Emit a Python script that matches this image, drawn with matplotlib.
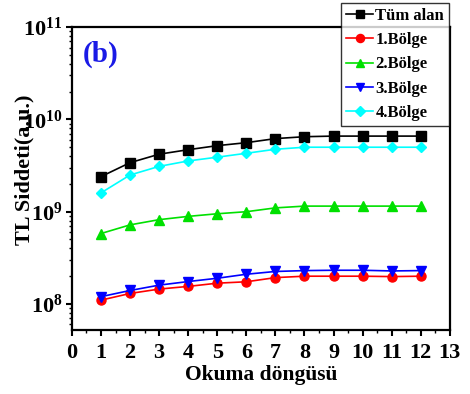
import math
import matplotlib
matplotlib.use("Agg")
import matplotlib.pyplot as plt
import matplotlib.ticker as ticker

plt.rcParams.update({
    "font.family": "Liberation Serif",
    "font.weight": "bold",
    "mathtext.fontset": "custom",
    "mathtext.rm": "Liberation Serif:bold",
    "mathtext.it": "Liberation Serif:bold",
    "mathtext.bf": "Liberation Serif:bold",
    "axes.linewidth": 1.6,
})

cycles = [1, 2, 3, 4, 5, 6, 7, 8, 9, 10, 11, 12]
tum_alan = [2.4e9, 3.4e9, 4.2e9, 4.7e9, 5.2e9, 5.6e9, 6.2e9, 6.5e9, 6.6e9, 6.6e9, 6.6e9, 6.6e9]
bolge1 = [1.1e8, 1.3e8, 1.45e8, 1.55e8, 1.68e8, 1.74e8, 1.93e8, 2.0e8, 2.0e8, 2.0e8, 1.98e8, 2.0e8]
bolge2 = [5.8e8, 7.2e8, 8.2e8, 8.9e8, 9.5e8, 1.0e9, 1.1e9, 1.15e9, 1.15e9, 1.15e9, 1.15e9, 1.15e9]
bolge3 = [1.2e8, 1.4e8, 1.6e8, 1.75e8, 1.9e8, 2.1e8, 2.25e8, 2.3e8, 2.32e8, 2.32e8, 2.28e8, 2.3e8]
bolge4 = [1.6e9, 2.5e9, 3.1e9, 3.55e9, 3.9e9, 4.3e9, 4.75e9, 5.0e9, 5.0e9, 5.0e9, 5.0e9, 5.0e9]

series = [
    ("Tüm alan", tum_alan, "black", "s"),
    ("1.Bölge", bolge1, "red", "o"),
    ("2.Bölge", bolge2, "#00e000", "^"),
    ("3.Bölge", bolge3, "blue", "v"),
    ("4.Bölge", bolge4, "cyan", "D"),
]

fig = plt.figure(figsize=(4.7, 3.94), dpi=100)
ax = fig.add_axes([0.153, 0.162, 0.804, 0.769])

for label, vals, col, mk in series:
    ax.plot(cycles, vals, color=col, marker=mk, ms=6.5 if mk != "D" else 5.5,
            lw=1.2, label=label)

ax.set_yscale("log")
ax.set_ylim(5.2e7, 1e11)
ax.set_xlim(0, 13)
ax.xaxis.set_major_locator(ticker.MultipleLocator(1))
ax.xaxis.set_minor_locator(ticker.MultipleLocator(0.5))
ax.yaxis.set_major_locator(ticker.LogLocator(base=10, numticks=10))
ax.yaxis.set_minor_locator(ticker.LogLocator(base=10, subs=range(2, 10), numticks=20))
ax.yaxis.set_minor_formatter(ticker.NullFormatter())
ax.yaxis.set_major_formatter(ticker.FuncFormatter(
    lambda v, _: r"$\mathbf{10^{%d}}$" % round(math.log10(v))))

ax.tick_params(axis="both", which="major", direction="out", length=4, width=1.5,
               labelsize=16, pad=3)
ax.tick_params(axis="x", which="major", pad=5)
ax.tick_params(axis="both", which="minor", direction="out", length=2.5, width=1.0)

ax.set_xlabel("Okuma döngüsü", fontsize=15.5, fontweight="bold", labelpad=2)
ax.set_ylabel("TL Siddeti(a.u.)", fontsize=16, fontweight="bold")
ax.yaxis.set_label_coords(-0.098, 0.53)

ax.text(0.03, 0.955, "(b)", transform=ax.transAxes, color="#1a1ae6",
        fontsize=21, fontweight="bold", va="top", ha="left")

leg = fig.legend(loc="upper left", bbox_to_anchor=(0.726, 0.993),
                 fontsize=12, frameon=True, fancybox=False, edgecolor="black",
                 handlelength=1.6, handletextpad=0.15, borderpad=0.3,
                 labelspacing=0.5, borderaxespad=0, markerscale=0.9)
leg.get_frame().set_linewidth(1.0)
for t in leg.get_texts():
    t.set_fontweight("bold")

fig.savefig("out.png", dpi=100)
